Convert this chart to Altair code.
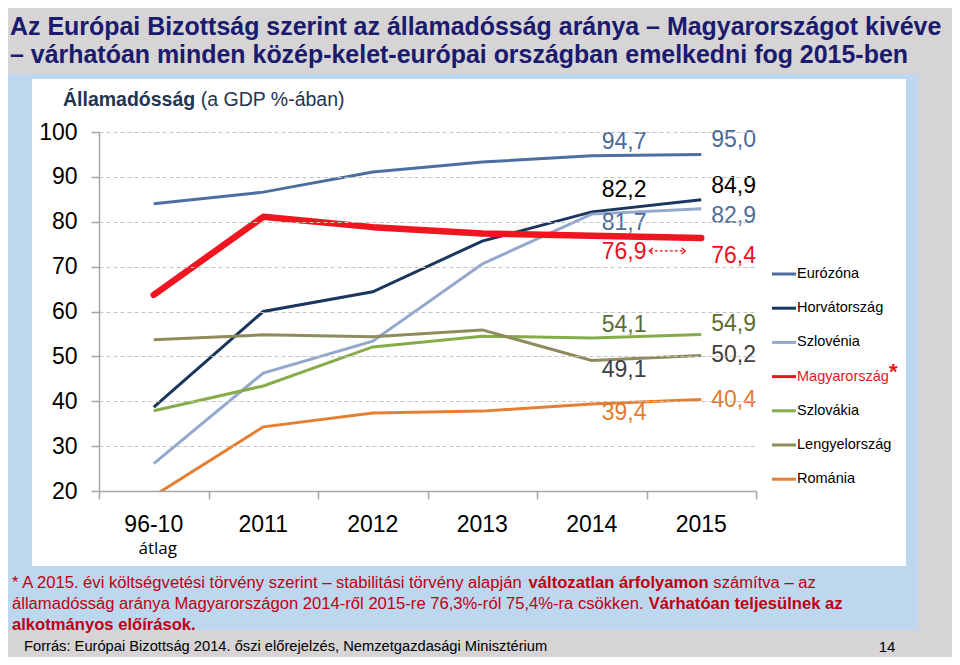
import altair as alt
import pandas as pd

# ---------------- data ----------------
categories = ["96-10", "2011", "2012", "2013", "2014", "2015"]
series_names = ["Eurózóna", "Horvátország", "Szlovénia", "Magyarország",
                "Szlovákia", "Lengyelország", "Románia"]
eurozona = [84.0, 86.6, 91.1, 93.3, 94.7, 95.0]
horvatorszag = [38.7, 60.0, 64.4, 75.7, 82.2, 84.9]
szlovenia = [26.1, 46.3, 53.4, 70.6, 81.7, 82.9]
magyarorszag = [63.7, 81.1, 78.8, 77.4, 76.9, 76.4]
szlovakia = [37.9, 43.4, 52.1, 54.5, 54.1, 54.9]
lengyelorszag = [53.7, 54.8, 54.4, 55.9, 49.1, 50.2]
romania = [18.9, 34.3, 37.4, 37.8, 39.4, 40.4]
values = [eurozona, horvatorszag, szlovenia, magyarorszag, szlovakia, lengyelorszag, romania]
y_ticks = [20, 30, 40, 50, 60, 70, 80, 90, 100]

title_lines = ["Az Európai Bizottság szerint az államadósság aránya – Magyarországot kivéve",
               "– várhatóan minden közép-kelet-európai országban emelkedni fog 2015-ben"]
subtitle = [("Államadósság", True), (" (a GDP %-ában)", False)]
footnote = [
    [("* A 2015. évi költségvetési törvény szerint – stabilitási törvény alapján ", False),
     ("változatlan árfolyamon", True), (" számítva – az", False)],
    [("államadósság aránya Magyarországon 2014-ről 2015-re 76,3%-ról 75,4%-ra csökken. ", False),
     ("Várhatóan teljesülnek az", True)],
    [("alkotmányos előírások.", True)],
]
source = "Forrás: Európai Bizottság 2014. őszi előrejelzés, Nemzetgazdasági Minisztérium"
page_no = "14"

# ---------------- styles ----------------
line_colors = ["#4b6fa0", "#1b365d", "#93a8cc", "#f01620", "#86ac4a", "#8e8b5c", "#e57f32"]
label_colors = ["#4a6a98", "#000000", "#4d6c99", "#e8141d", "#5d6b32", "#404040", "#e37b2c"]
label_dy = [(-14, -14), (-22, -14), (9, 7), (16, 18), (-13, -10), (10, 0), (9, 1)]

ARIAL = "Liberation Sans, Arial, sans-serif"
W, H = 657, 359
OX, OY = 99, 132  # page position of plot origin
PX_PER_UNIT = H / 80.0

# approximate Arial / Liberation Sans advance widths (per 1000 em)
_REG = dict(zip(" !%()*+,-./:;", [278, 278, 889, 333, 333, 389, 584, 278, 333, 278, 278, 278, 278]))
_BOLD = dict(zip(" !%()*+,-./:;", [278, 333, 889, 333, 333, 389, 584, 278, 333, 278, 278, 333, 333]))
for d in (_REG, _BOLD):
    for c in "0123456789":
        d[c] = 556
    d["–"] = 556
_up_reg = [667, 667, 722, 722, 667, 611, 778, 722, 278, 500, 667, 556, 833, 722, 778, 667, 778, 722, 667, 611, 722, 667, 944, 667, 667, 611]
_up_bold = [722, 722, 722, 722, 667, 611, 778, 722, 278, 556, 722, 611, 833, 722, 778, 667, 778, 722, 667, 611, 722, 667, 944, 667, 667, 611]
_lo_reg = [556, 556, 500, 556, 556, 278, 556, 556, 222, 222, 500, 222, 833, 556, 556, 556, 556, 333, 500, 278, 556, 500, 722, 500, 500, 500]
_lo_bold = [556, 611, 556, 611, 556, 333, 611, 611, 278, 278, 556, 278, 889, 611, 611, 611, 611, 389, 556, 333, 611, 556, 778, 556, 556, 500]
for k in range(26):
    _REG[chr(65 + k)] = _up_reg[k]
    _BOLD[chr(65 + k)] = _up_bold[k]
    _REG[chr(97 + k)] = _lo_reg[k]
    _BOLD[chr(97 + k)] = _lo_bold[k]
_ACC = {"á": "a", "é": "e", "í": "i", "ó": "o", "ö": "o", "ő": "o", "ú": "u", "ü": "u", "ű": "u", "Á": "A", "É": "E"}


def em_width(s, bold=False):
    d = _BOLD if bold else _REG
    return sum(d.get(_ACC.get(c, c), 556) for c in s) / 1000.0


rows = []
for s, vals in zip(series_names, values):
    for i, v in enumerate(vals):
        rows.append({"s": s, "i": i, "v": v})
df = pd.DataFrame(rows)

lab_rows = []
for k, (s, vals) in enumerate(zip(series_names, values)):
    for j, i in enumerate([4, 5]):
        lab_rows.append({"s": s, "i": i, "v": vals[i],
                         "t": f"{vals[i]:.1f}".replace(".", ","),
                         "c": label_colors[k], "dy": label_dy[k][j]})
lab_df = pd.DataFrame(lab_rows)

cat_df = pd.DataFrame({"cat": categories, "i": list(range(len(categories)))})

xscale = alt.Scale(domain=[-0.5, 5.5], nice=False, zero=False)
yscale = alt.Scale(domain=[20, 100], nice=False, zero=False)
cscale = alt.Scale(domain=series_names, range=line_colors)

one = pd.DataFrame({"a": [0]})


def page_text(txt, px, py, size, font=ARIAL, color="black", bold=False, align="left"):
    return alt.Chart(one).mark_text(
        text=txt, font=font, fontSize=size, color=color,
        fontWeight="bold" if bold else "normal", align=align, baseline="middle"
    ).encode(x=alt.value(px - OX), y=alt.value(py - OY))


def page_rich(segments, px, py, size, color):
    out = []
    x = px
    for txt, bold in segments:
        stripped = txt.lstrip(" ")
        x += em_width(txt[:len(txt) - len(stripped)], bold) * size
        out.append(page_text(stripped.rstrip(" "), x, py, size, color=color, bold=bold))
        x += em_width(stripped, bold) * size
    return out


def page_rect(x1, y1, x2, y2, color):
    return alt.Chart(one).mark_rect(color=color).encode(
        x=alt.value(x1 - OX), x2=alt.value(x2 - OX),
        y=alt.value(y1 - OY), y2=alt.value(y2 - OY))


bg_blue = page_rect(8, 74, 918, 630, "#bdd7ee")
bg_white = page_rect(32, 79, 906, 566, "#ffffff")

base_x = alt.X("i:Q", scale=xscale, title=None,
               axis=alt.Axis(values=[-0.5 + k for k in range(7)], labels=False, grid=False,
                             tickSize=8, tickColor="#a6a6a6", domainColor="#a6a6a6",
                             domainWidth=1.5, tickWidth=1.5, zindex=1))
base_y = alt.Y("v:Q", scale=yscale, title=None,
               axis=alt.Axis(values=y_ticks, labelFontSize=23, labelFont=ARIAL,
                             labelColor="black", tickSize=8, tickColor="#a6a6a6",
                             tickWidth=1.5, domainColor="#a6a6a6", domainWidth=1.5,
                             grid=True, gridColor="#c4c4c4", gridDash=[4, 3], gridWidth=1,
                             labelPadding=14, zindex=1))

lines_other = alt.Chart(df[df.s != "Magyarország"]).mark_line(
    clip=True, strokeWidth=3).encode(
    x=base_x, y=base_y, color=alt.Color("s:N", scale=cscale, legend=None))

lines_hu = alt.Chart(df[df.s == "Magyarország"]).mark_line(
    clip=True, strokeWidth=6.5, strokeCap="round", strokeJoin="round").encode(
    x="i:Q", y="v:Q", color=alt.Color("s:N", scale=cscale, legend=None))

labels = alt.Chart(lab_df).transform_calculate(
    yl=f"datum.v - datum.dy / {PX_PER_UNIT}"
).mark_text(font=ARIAL, fontSize=23, align="left", baseline="middle", dx=10).encode(
    x="i:Q", y=alt.Y("yl:Q"), text="t:N", color=alt.Color("c:N", scale=None))

# dashed double arrow between 76,9 and 76,4
arrow_df = pd.DataFrame({"x1": [4.53], "x2": [4.85], "y": [73.5]})
arrow_line = alt.Chart(arrow_df).mark_rule(color="#e8141d", strokeWidth=1.2,
                                           strokeDash=[3, 2]).encode(
    x="x1:Q", x2="x2:Q", y="y:Q")
arrow_l = alt.Chart(arrow_df).mark_point(shape="M1,-1L-0.2,0L1,1", filled=False,
                                         color="#e8141d", size=40, strokeWidth=1.2,
                                         opacity=1).encode(x="x1:Q", y="y:Q")
arrow_r = alt.Chart(arrow_df).mark_point(shape="M-1,-1L0.2,0L-1,1", filled=False,
                                         color="#e8141d", size=40, strokeWidth=1.2,
                                         opacity=1).encode(x="x2:Q", y="y:Q")

cat_labels = alt.Chart(cat_df).mark_text(font=ARIAL, fontSize=23, baseline="middle").encode(
    x="i:Q", y=alt.value(525 - OY), text="cat:N")
atlag = alt.Chart(cat_df[cat_df.i == 0]).mark_text(
    text="átlag", font="Open Sans, Lato, sans-serif", fontSize=17, baseline="middle", dx=4
).encode(x="i:Q", y=alt.value(549 - OY))

# legend (manual)
legend_layers = []
for k, s in enumerate(series_names):
    ly = 274 + k * 34.2 - OY
    legend_layers.append(alt.Chart(one).mark_rule(strokeWidth=3, color=line_colors[k]).encode(
        x=alt.value(772 - OX), x2=alt.value(796 - OX), y=alt.value(ly)))
    legend_layers.append(alt.Chart(one).mark_text(
        text=s, font=ARIAL, fontSize=14.5, align="left", baseline="middle",
        color="#e8141d" if s == "Magyarország" else "black").encode(
        x=alt.value(797 - OX), y=alt.value(ly)))
asterisk = page_text("*", 889, 372, 22, color="#e8141d", bold=True)

# page texts
t_size = 932 / em_width(title_lines[0], True)
title1 = page_text(title_lines[0], 10, 28, t_size, color="#1a1a6e", bold=True)
title2 = page_text(title_lines[1], 10, 56, t_size, color="#1a1a6e", bold=True)
sub_size = 282 / sum(em_width(t, b) for t, b in subtitle)
sub_layers = page_rich(subtitle, 63, 100, sub_size, "#22344f")

RED = "#c0000f"
f_size = 803 / sum(em_width(t, b) for t, b in footnote[0])
foot_layers = []
for n, segs in enumerate(footnote):
    foot_layers += page_rich(segs, 12, 583 + n * 21, f_size, RED)
s_size = 524 / em_width(source)
src = page_text(source, 24, 647, s_size, color="black")
pg = page_text(page_no, 887, 647, 15, color="black", align="center")

chart = alt.layer(
    bg_blue, bg_white, lines_other, lines_hu, labels, arrow_line, arrow_l, arrow_r,
    cat_labels, atlag, *legend_layers, asterisk,
    title1, title2, *sub_layers, *foot_layers, src, pg
).properties(
    width=W, height=H,
    autosize=alt.AutoSizeParams(type="none"),
    padding={"left": 91, "top": 124, "right": 196, "bottom": 166},
    background="#d6d4d4"
).configure_view(stroke=None)

chart.save("out.html", embed_options={"renderer": "svg", "actions": False})
